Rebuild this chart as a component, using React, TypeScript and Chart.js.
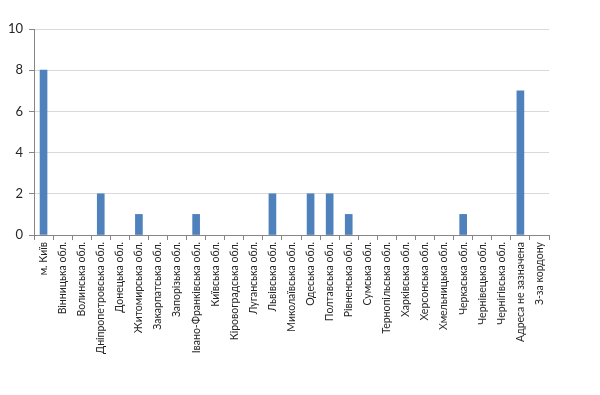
import React, { useEffect, useRef } from "react";
import { Chart, registerables } from "chart.js";

Chart.register(...registerables);

const categories: string[] = [
  "м. Київ",
  "Вінницька обл.",
  "Волинська обл.",
  "Дніпропетровська обл.",
  "Донецька обл.",
  "Житомирська обл.",
  "Закарпатська обл.",
  "Запорізька обл.",
  "Івано-Франківська обл.",
  "Київська обл.",
  "Кіровоградська обл.",
  "Луганська обл.",
  "Львівська обл.",
  "Миколаївська обл.",
  "Одеська обл.",
  "Полтавська обл.",
  "Рівненська обл.",
  "Сумська обл.",
  "Тернопільська обл.",
  "Харківська обл.",
  "Херсонська обл.",
  "Хмельницька обл.",
  "Черкаська обл.",
  "Чернівецька обл.",
  "Чернігівська обл.",
  "Адреса не зазначена",
  "З-за кордону",
];

const values: number[] = [8, 0, 0, 2, 0, 1, 0, 0, 1, 0, 0, 0, 2, 0, 2, 2, 1, 0, 0, 0, 0, 0, 1, 0, 0, 7, 0];

const yTicks: number[] = [0, 2, 4, 6, 8, 10];

export default function App() {
  const ref = useRef<HTMLCanvasElement | null>(null);

  useEffect(() => {
    if (!ref.current) return;
    const chart = new Chart(ref.current, {
      type: "bar",
      data: {
        labels: categories,
        datasets: [
          {
            data: values.map((v) => (v === 0 ? null : v)),
            backgroundColor: "#4F81BD",
            barThickness: 7,
          },
        ],
      },
      options: {
        animation: false,
        responsive: false,
        maintainAspectRatio: false,
        layout: { padding: { top: 29, right: 51, bottom: 0, left: 0 } },
        plugins: { legend: { display: false }, tooltip: { enabled: false } },
        scales: {
          x: {
            grid: {
              offset: true,
              drawOnChartArea: false,
              drawTicks: true,
              tickLength: 5,
              color: "#868686",
            },
            border: { color: "#868686" },
            ticks: {
              autoSkip: false,
              maxRotation: 90,
              minRotation: 90,
              font: { family: "Lato", size: 10.5 },
              color: "#262626",
              padding: 2,
            },
            afterFit: (scale: any) => {
              scale.height = 160;
            },
          },
          y: {
            min: 0,
            max: 10,
            afterBuildTicks: (scale: any) => {
              scale.ticks = yTicks.map((v) => ({ value: v }));
            },
            grid: {
              color: "#d9d9d9",
              tickLength: 5,
              tickColor: "#868686",
            },
            border: { color: "#868686" },
            ticks: {
              font: { family: "Lato", size: 13 },
              color: "#262626",
              padding: 6,
            },
            afterFit: (scale: any) => {
              scale.width = 34;
            },
          },
        },
      },
    });
    return () => chart.destroy();
  }, []);

  return (
    <div style={{ position: "fixed", left: 0, top: 0, width: 600, height: 395, background: "#fff" }}>
      <canvas ref={ref} width={600} height={395} />
    </div>
  );
}
